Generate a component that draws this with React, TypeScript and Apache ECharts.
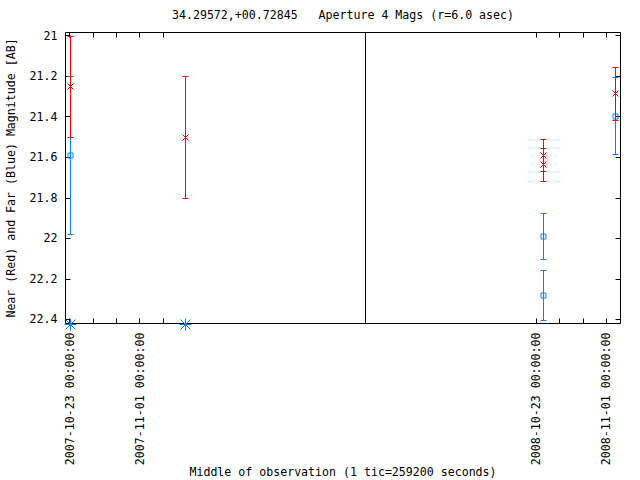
import React, { useEffect, useRef } from "react";
import * as echarts from "echarts";

const DAY = 86400000;
const t = (s: string) => Date.parse(s + "T00:00:00Z");
const ts = (s: string) => Date.parse(s + "Z");

// ---- data ----
const redTimes = ["2007-10-23T02:00:00", "2007-11-06T18:00:00", "2008-10-23T20:00:00", "2008-10-23T20:00:00", "2008-11-02T02:00:00"];
const redMags = [21.25, 21.5, 21.59, 21.635, 21.285];
const redErrs = [0.25, 0.3, 0.08, 0.08, 0.13];

const blueTimes = ["2007-10-23T02:00:00", "2008-10-23T20:00:00", "2008-10-23T20:00:00", "2008-11-02T02:00:00"];
const blueMags = [21.59, 21.99, 22.28, 21.395];
const blueErrs = [0.39, 0.113, 0.125, 0.19];

// far (blue) values lying off the bottom of the scale
const blueOffTimes = ["2007-10-23T00:00:00", "2007-11-06T20:00:00"];
const blueOffMags = [22.42, 22.42];

const yTicks = [21, 21.2, 21.4, 21.6, 21.8, 22, 22.2, 22.4];
const leftTicks = ["2007-10-23", "2007-10-26", "2007-10-29", "2007-11-01", "2007-11-04"];
const leftLabels = ["2007-10-23", "2007-11-01"];
const rightTicks = ["2008-10-23", "2008-10-26", "2008-10-29", "2008-11-01"];
const rightLabels = ["2008-10-23", "2008-11-01"];

const titleText = "34.29572,+00.72845   Aperture 4 Mags (r=6.0 asec)";
const yTitle = "Near (Red) and Far (Blue) Magnitude [AB]";
const xTitle = "Middle of observation (1 tic=259200 seconds)";

// ---- layout ----
const FONT = "DejaVu Sans Mono";
const FS = 11.6;
const RED = "#ff0000";
const BLUE = "#0a80ff";
const Y_MIN = 20.985;
const Y_MAX = 22.42;
const BREAK_DATE = t("2008-01-01");
const leftMin = t("2007-10-23") - 0.513 * DAY;
const leftMax = leftMin + 38.46 * DAY;
const rightMin = t("2008-10-23") - 21.88 * DAY;
const rightMax = rightMin + 32.69 * DAY;

const pad = (n: number) => String(n).padStart(2, "0");
const fmtDate = (v: number) => {
  const d = new Date(v);
  return `${d.getUTCFullYear()}-${pad(d.getUTCMonth() + 1)}-${pad(d.getUTCDate())} ${pad(d.getUTCHours())}:${pad(d.getUTCMinutes())}:${pad(d.getUTCSeconds())}`;
};

const half = (v: number) => Math.round(v) + 0.5;

const errRender = (color: string, marker: "x" | "sq") => (params: any, api: any) => {
  const x = api.value(0), y = api.value(1), e = api.value(2);
  const c = api.coord([x, y]);
  const top = api.coord([x, y - e]);
  const bot = api.coord([x, y + e]);
  const st = { stroke: color, lineWidth: 1, fill: "none" };
  const cx = half(c[0]);
  const cy = half(c[1]);
  const ty = half(top[1]);
  const by = half(bot[1]);
  const children: any[] = [
    { type: "line", shape: { x1: cx, y1: ty, x2: cx, y2: by }, style: st },
    { type: "line", shape: { x1: cx - 3, y1: ty, x2: cx + 3, y2: ty }, style: st },
    { type: "line", shape: { x1: cx - 3, y1: by, x2: cx + 3, y2: by }, style: st },
  ];
  if (marker === "x") {
    children.push({ type: "line", shape: { x1: cx - 3, y1: cy - 3, x2: cx + 3, y2: cy + 3 }, style: st });
    children.push({ type: "line", shape: { x1: cx - 3, y1: cy + 3, x2: cx + 3, y2: cy - 3 }, style: st });
  } else {
    children.push({ type: "rect", shape: { x: cx - 2.5, y: cy - 2.5, width: 5, height: 5 }, style: { stroke: color, lineWidth: 1, fill: "none" } });
  }
  return { type: "group", children };
};

const starRender = (color: string) => (params: any, api: any) => {
  const c = api.coord([api.value(0), api.value(1)]);
  const cx = half(c[0]);
  const cy = half(c[1]);
  const st = { stroke: color, lineWidth: 1, fill: "none" };
  return {
    type: "group",
    children: [
      { type: "line", shape: { x1: cx, y1: cy - 6, x2: cx, y2: cy + 6 }, style: st },
      { type: "line", shape: { x1: cx - 6, y1: cy, x2: cx + 6, y2: cy }, style: st },
      { type: "line", shape: { x1: cx - 5, y1: cy - 5, x2: cx + 5, y2: cy + 5 }, style: st },
      { type: "line", shape: { x1: cx - 5, y1: cy + 5, x2: cx + 5, y2: cy - 5 }, style: st },
    ],
  };
};

const pick = (times: string[], mags: number[], errs: number[] | null, left: boolean) => {
  const out: number[][] = [];
  times.forEach((s, i) => {
    const tv = ts(s);
    if ((tv < BREAK_DATE) === left) out.push(errs ? [tv, mags[i], errs[i]] : [tv, mags[i]]);
  });
  return out;
};

const xAxisPair = (grid: number, min: number, max: number, ticks: string[], labels: string[]) => [
  {
    type: "value", gridIndex: grid, min, max, position: "bottom",
    axisLine: { show: false }, splitLine: { show: false },
    axisTick: { show: true, inside: true, length: 5, customValues: ticks.map(t), lineStyle: { color: "#000", width: 1 } },
    axisLabel: {
      show: true, customValues: labels.map(t), rotate: 90, margin: 9, formatter: (v: number) => fmtDate(v),
      fontFamily: FONT, fontSize: FS, color: "#000",
    },
  },
  {
    type: "value", gridIndex: grid, min, max, position: "top",
    axisLine: { show: false }, splitLine: { show: false },
    axisTick: { show: true, inside: true, length: 5, customValues: ticks.map(t), lineStyle: { color: "#000", width: 1 } },
    axisLabel: { show: false },
  },
];

export default function App() {
  const ref = useRef<HTMLDivElement>(null);
  useEffect(() => {
    if (!ref.current) return;
    const chart = echarts.init(ref.current, null, { renderer: "svg" });
    const option: any = {
      animation: false,
      backgroundColor: "#fff",
      grid: [
        { left: 65.5, top: 32.5, width: 300, height: 291, show: true, borderColor: "#000", borderWidth: 1, backgroundColor: "transparent" },
        { left: 365.5, top: 32.5, width: 255, height: 291, show: true, borderColor: "#000", borderWidth: 1, backgroundColor: "transparent" },
      ],
      xAxis: [
        ...xAxisPair(0, leftMin, leftMax, leftTicks, leftLabels),
        ...xAxisPair(1, rightMin, rightMax, rightTicks, rightLabels),
      ],
      yAxis: [
        {
          type: "value", gridIndex: 0, min: Y_MIN, max: Y_MAX, inverse: true, position: "left",
          axisLine: { show: false }, splitLine: { show: false },
          axisTick: { show: true, inside: true, length: 5, customValues: yTicks, lineStyle: { color: "#000", width: 1 } },
          axisLabel: {
            show: true, customValues: yTicks, margin: 8, formatter: (v: number) => String(Number(v.toFixed(1))),
            fontFamily: FONT, fontSize: FS, color: "#000",
          },
        },
        {
          type: "value", gridIndex: 1, min: Y_MIN, max: Y_MAX, inverse: true, position: "right",
          axisLine: { show: false }, splitLine: { show: false },
          axisTick: { show: true, inside: true, length: 5, customValues: yTicks, lineStyle: { color: "#000", width: 1 } },
          axisLabel: { show: false },
        },
      ],
      series: [
        { type: "custom", name: "Near L", xAxisIndex: 0, yAxisIndex: 0, renderItem: errRender(RED, "x"), data: pick(redTimes, redMags, redErrs, true), clip: false, z: 3 },
        { type: "custom", name: "Far L", xAxisIndex: 0, yAxisIndex: 0, renderItem: errRender(BLUE, "sq"), data: pick(blueTimes, blueMags, blueErrs, true), clip: false, z: 2 },
        { type: "custom", name: "Far off L", xAxisIndex: 0, yAxisIndex: 0, renderItem: starRender(BLUE), data: pick(blueOffTimes, blueOffMags, null, true), clip: false, z: 4 },
        { type: "custom", name: "Near R", xAxisIndex: 2, yAxisIndex: 1, renderItem: errRender(RED, "x"), data: pick(redTimes, redMags, redErrs, false), clip: false, z: 3 },
        { type: "custom", name: "Far R", xAxisIndex: 2, yAxisIndex: 1, renderItem: errRender(BLUE, "sq"), data: pick(blueTimes, blueMags, blueErrs, false), clip: false, z: 2 },
      ],
      graphic: [
        { type: "text", x: 343, y: 15, style: { text: titleText, font: `${FS}px "${FONT}"`, fill: "#000", align: "center", verticalAlign: "middle" } },
        { type: "text", x: 343, y: 472, style: { text: xTitle, font: `${FS}px "${FONT}"`, fill: "#000", align: "center", verticalAlign: "middle" } },
        { type: "text", x: 11, y: 178, rotation: Math.PI / 2, style: { text: yTitle, font: `${FS}px "${FONT}"`, fill: "#000", align: "center", verticalAlign: "middle" } },
      ],
    };
    chart.setOption(option);
    return () => chart.dispose();
  }, []);
  return <div ref={ref} style={{ position: "fixed", left: 0, top: 0, width: 640, height: 480 }} />;
}
